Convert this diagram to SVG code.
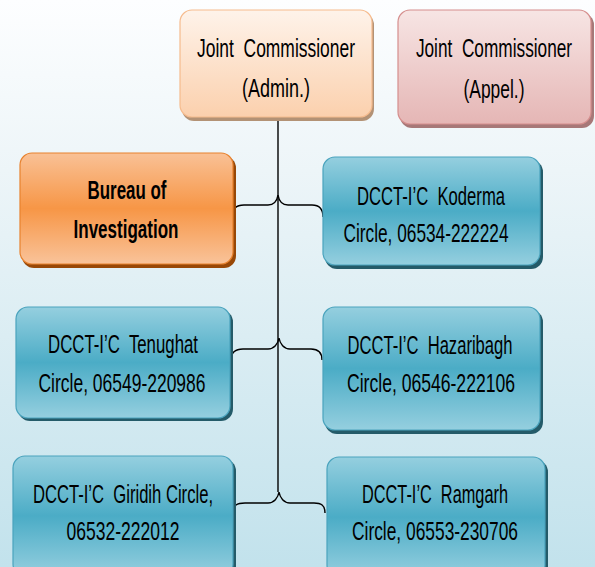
<svg xmlns="http://www.w3.org/2000/svg" width="595" height="567" viewBox="0 0 595 567">
<defs>
<linearGradient id="bg" x1="0" y1="0" x2="0" y2="1"><stop offset="0" stop-color="#fdfeff"/><stop offset="0.3" stop-color="#edf5f8"/><stop offset="1" stop-color="#c2e2ec"/></linearGradient>
<linearGradient id="peach" x1="0" y1="0" x2="0" y2="1"><stop offset="0" stop-color="#fef3ea"/><stop offset="1" stop-color="#fbd0ad"/></linearGradient>
<linearGradient id="pink" x1="0" y1="0" x2="0" y2="1"><stop offset="0" stop-color="#f7e5e4"/><stop offset="1" stop-color="#e5b6b5"/></linearGradient>
<linearGradient id="orange" x1="0" y1="0" x2="0" y2="1"><stop offset="0" stop-color="#f9c196"/><stop offset="0.5" stop-color="#f79646"/><stop offset="1" stop-color="#f9c39a"/></linearGradient>
<linearGradient id="teal" x1="0" y1="0" x2="0" y2="1"><stop offset="0" stop-color="#95cfdf"/><stop offset="0.5" stop-color="#4bacc6"/><stop offset="1" stop-color="#95cfdf"/></linearGradient>
</defs>
<style>
.t{font-family:"Liberation Sans",Arial,sans-serif;font-size:25px;fill:#000;text-anchor:middle}
.b{font-weight:bold}
.conn{fill:none;stroke:#000;stroke-width:1.4}
.sh-peach{fill:#b39275}
.sh-pink{fill:#a77878}
.sh-orange{fill:#984807}
.sh-teal{fill:#245b69}
.n-peach{fill:url(#peach);stroke:#f6bb8d;stroke-width:1.2}
.n-pink{fill:url(#pink);stroke:#d58e8d;stroke-width:1.2}
.n-orange{fill:url(#orange);stroke:#e8822e;stroke-width:1.2}
.n-teal{fill:url(#teal);stroke:#4aa3bd;stroke-width:1.2}
</style>
<rect x="0" y="0" width="595" height="567" fill="url(#bg)"/>
<g id="connectors">
<path class="conn" d="M278,117 L278,492"/>
<path class="conn" d="M232,217 C232,209 236,205 244,205 L268,205 C274,205 277,201 278,195 C279,201 282,205 288,205 L312,205 C319,205 323,209 323,217"/>
<path class="conn" d="M231,360 C231,352 235,349 243,349 L268,349 C274,349 278,344 279,338 C280,344 284,349 290,349 L311,349 C318,349 322,352 322,360"/>
<path class="conn" d="M233,513 C233,505 237,503 245,503 L268,503 C274,503 278,498 279,492 C280,498 284,503 290,503 L314,503 C321,503 325,505 325,513"/>
</g>
<g id="node-admin">
<rect class="sh-peach" x="182" y="13" width="192" height="108" rx="12"/>
<rect class="n-peach" x="180" y="10" width="192" height="107" rx="12"/>
<text class="t" x="276" y="57" textLength="158" lengthAdjust="spacingAndGlyphs" xml:space="preserve">Joint  Commissioner</text>
<text class="t" x="276" y="97" textLength="68" lengthAdjust="spacingAndGlyphs">(Admin.)</text>
</g>
<g id="node-appel">
<rect class="sh-pink" x="400" y="13" width="194" height="115" rx="12"/>
<rect class="n-pink" x="398" y="10" width="193" height="114" rx="12"/>
<text class="t" transform="translate(494,57) scale(0.69,1)" x="0" y="0" xml:space="preserve">Joint  Commissioner</text>
<text class="t" x="494" y="98" textLength="61" lengthAdjust="spacingAndGlyphs">(Appel.)</text>
</g>
<g id="node-bureau">
<rect class="sh-orange" x="22" y="156" width="214" height="112" rx="12"/>
<rect class="n-orange" x="20" y="153" width="213" height="111" rx="12"/>
<text class="t b" x="127" y="199" textLength="79" lengthAdjust="spacingAndGlyphs">Bureau of</text>
<text class="t b" x="126" y="238" textLength="105" lengthAdjust="spacingAndGlyphs">Investigation</text>
</g>
<g id="node-koderma">
<rect class="sh-teal" x="325" y="160" width="218" height="109" rx="12"/>
<rect class="n-teal" x="323" y="157" width="217" height="108" rx="12"/>
<text class="t" x="431" y="205" textLength="148" lengthAdjust="spacingAndGlyphs" xml:space="preserve">DCCT-I’C  Koderma</text>
<text class="t" x="426" y="242" textLength="165" lengthAdjust="spacingAndGlyphs">Circle, 06534-222224</text>
</g>
<g id="node-tenughat">
<rect class="sh-teal" x="18" y="310" width="215" height="111" rx="12"/>
<rect class="n-teal" x="16" y="307" width="214" height="111" rx="12"/>
<text class="t" x="123" y="353" textLength="150" lengthAdjust="spacingAndGlyphs" xml:space="preserve">DCCT-I’C  Tenughat</text>
<text class="t" x="122" y="392" textLength="167" lengthAdjust="spacingAndGlyphs">Circle, 06549-220986</text>
</g>
<g id="node-hazaribagh">
<rect class="sh-teal" x="325" y="310" width="218" height="124" rx="12"/>
<rect class="n-teal" x="323" y="307" width="217" height="123" rx="12"/>
<text class="t" x="430" y="354" textLength="165" lengthAdjust="spacingAndGlyphs" xml:space="preserve">DCCT-I’C  Hazaribagh</text>
<text class="t" x="431" y="392" textLength="168" lengthAdjust="spacingAndGlyphs">Circle, 06546-222106</text>
</g>
<g id="node-giridih">
<rect class="sh-teal" x="15" y="459" width="221" height="120" rx="12"/>
<rect class="n-teal" x="13" y="456" width="220" height="120" rx="12"/>
<text class="t" x="123" y="503" textLength="180" lengthAdjust="spacingAndGlyphs" xml:space="preserve">DCCT-I’C  Giridih Circle,</text>
<text class="t" x="123" y="540" textLength="113" lengthAdjust="spacingAndGlyphs">06532-222012</text>
</g>
<g id="node-ramgarh">
<rect class="sh-teal" x="329" y="460" width="219" height="120" rx="12"/>
<rect class="n-teal" x="327" y="457" width="218" height="120" rx="12"/>
<text class="t" x="435" y="503" textLength="146" lengthAdjust="spacingAndGlyphs" xml:space="preserve">DCCT-I’C  Ramgarh</text>
<text class="t" x="435" y="540" textLength="166" lengthAdjust="spacingAndGlyphs">Circle, 06553-230706</text>
</g>
</svg>
